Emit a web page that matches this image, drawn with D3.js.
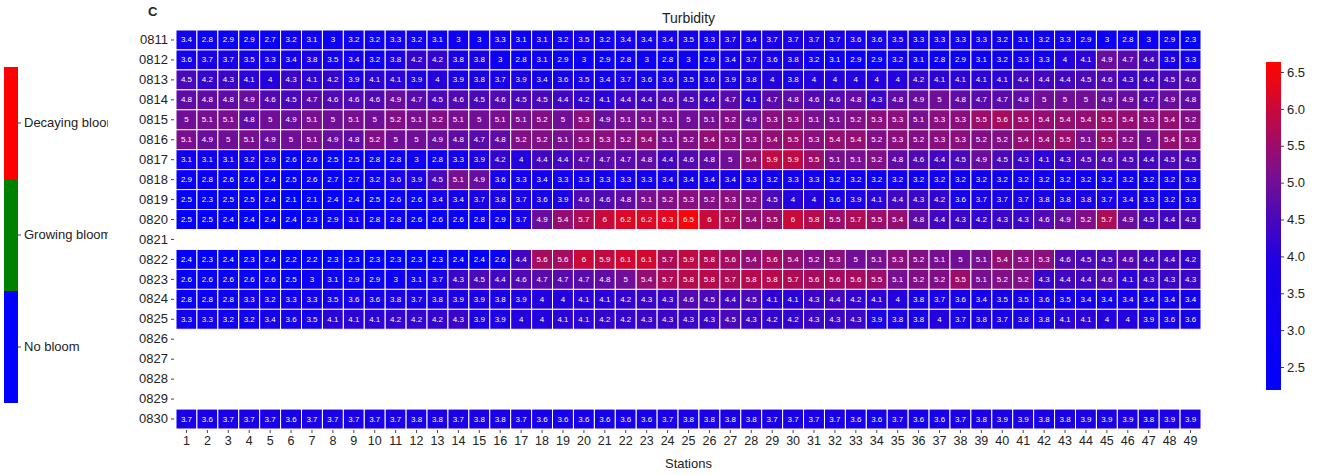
<!DOCTYPE html>
<html>
<head>
<meta charset="utf-8">
<script src="https://cdn.jsdelivr.net/npm/d3@7"></script>
<style>
  body { margin: 0; background: #fff; }
  text { font-family: "Liberation Sans", Arial, sans-serif; }
</style>
</head>
<body>
<svg id="chart" width="1323" height="475"></svg>
<script>
// Sampling dates (MMDD); dates without samples stay as empty rows
const dates = ["0811","0812","0813","0814","0815","0816","0817","0818","0819","0820",
               "0821","0822","0823","0824","0825","0826","0827","0828","0829","0830"];
const stations = d3.range(1, 50);

// Turbidity per station (1..49) for each sampled date
const turb0811 = [3.4,2.8,2.9,2.9,2.7,3.2,3.1,3,3.2,3.2,3.3,3.2,3.1,3,3,3.3,3.1,3.1,3.2,3.5,3.2,3.4,3.4,3.4,3.5,3.3,3.7,3.4,3.7,3.7,3.7,3.7,3.6,3.6,3.5,3.3,3.3,3.3,3.3,3.2,3.1,3.2,3.3,2.9,3,2.8,3,2.9,2.3];
const turb0812 = [3.6,3.7,3.7,3.5,3.3,3.4,3.8,3.5,3.4,3.2,3.8,4.2,4.2,3.8,3.8,3,2.8,3.1,2.9,3,2.9,2.8,3,2.8,3,2.9,3.4,3.7,3.6,3.8,3.2,3.1,2.9,2.9,3.2,3.1,2.8,2.9,3.1,3.2,3.3,3.3,4,4.1,4.9,4.7,4.4,3.5,3.3];
const turb0813 = [4.5,4.2,4.3,4.1,4,4.3,4.1,4.2,3.9,4.1,4.1,3.9,4,3.9,3.8,3.7,3.9,3.4,3.6,3.5,3.4,3.7,3.6,3.6,3.5,3.6,3.9,3.8,4,3.8,4,4,4,4,4,4.2,4.1,4.1,4.1,4.1,4.4,4.4,4.4,4.5,4.6,4.3,4.4,4.5,4.6];
const turb0814 = [4.8,4.8,4.8,4.9,4.6,4.5,4.7,4.6,4.6,4.6,4.9,4.7,4.5,4.6,4.5,4.6,4.5,4.5,4.4,4.2,4.1,4.4,4.4,4.6,4.5,4.4,4.7,4.1,4.7,4.8,4.6,4.6,4.8,4.3,4.8,4.9,5,4.8,4.7,4.7,4.8,5,5,5,4.9,4.9,4.7,4.9,4.8];
const turb0815 = [5,5.1,5.1,4.8,5,4.9,5.1,5,5.1,5,5.2,5.1,5.2,5.1,5,5.1,5.1,5.2,5,5.3,4.9,5.1,5.1,5.1,5,5.1,5.2,4.9,5.3,5.3,5.1,5.1,5.2,5.3,5.3,5.1,5.3,5.3,5.5,5.6,5.5,5.4,5.4,5.4,5.5,5.4,5.3,5.4,5.2];
const turb0816 = [5.1,4.9,5,5.1,4.9,5,5.1,4.9,4.8,5.2,5,5,4.9,4.8,4.7,4.8,5.2,5.2,5.1,5.3,5.3,5.2,5.4,5.1,5.2,5.4,5.3,5.3,5.4,5.5,5.3,5.4,5.4,5.2,5.3,5.2,5.3,5.3,5.2,5.2,5.4,5.4,5.5,5.1,5.5,5.2,5,5.4,5.3];
const turb0817 = [3.1,3.1,3.1,3.2,2.9,2.6,2.6,2.5,2.5,2.8,2.8,3,2.8,3.3,3.9,4.2,4,4.4,4.4,4.7,4.7,4.7,4.8,4.4,4.6,4.8,5,5.4,5.9,5.9,5.5,5.1,5.1,5.2,4.8,4.6,4.4,4.5,4.9,4.5,4.3,4.1,4.3,4.5,4.6,4.5,4.4,4.5,4.5];
const turb0818 = [2.9,2.8,2.6,2.6,2.4,2.5,2.6,2.7,2.7,3.2,3.6,3.9,4.5,5.1,4.9,3.6,3.3,3.4,3.3,3.3,3.3,3.3,3.3,3.4,3.4,3.4,3.4,3.3,3.2,3.3,3.3,3.2,3.2,3.2,3.2,3.2,3.2,3.2,3.2,3.2,3.2,3.2,3.2,3.2,3.2,3.2,3.2,3.2,3.3];
const turb0819 = [2.5,2.3,2.5,2.5,2.4,2.1,2.1,2.4,2.4,2.5,2.6,2.6,3.4,3.4,3.7,3.8,3.7,3.6,3.9,4.6,4.6,4.8,5.1,5.2,5.3,5.2,5.3,5.2,4.5,4,4,3.6,3.9,4.1,4.4,4.3,4.2,3.6,3.7,3.7,3.7,3.8,3.8,3.8,3.7,3.4,3.3,3.2,3.3];
const turb0820 = [2.5,2.5,2.4,2.4,2.4,2.4,2.3,2.9,3.1,2.8,2.8,2.6,2.6,2.6,2.8,2.9,3.7,4.9,5.4,5.7,6,6.2,6.2,6.3,6.5,6,5.7,5.4,5.5,6,5.8,5.5,5.7,5.5,5.4,4.8,4.4,4.3,4.2,4.3,4.3,4.6,4.9,5.2,5.7,4.9,4.5,4.4,4.5];
const turb0822 = [2.4,2.3,2.4,2.3,2.4,2.2,2.2,2.3,2.3,2.3,2.3,2.3,2.3,2.4,2.4,2.6,4.4,5.6,5.6,6,5.9,6.1,6.1,5.7,5.9,5.8,5.6,5.4,5.6,5.4,5.2,5.3,5,5.1,5.3,5.2,5.1,5,5.1,5.4,5.3,5.3,4.6,4.5,4.5,4.6,4.4,4.4,4.2];
const turb0823 = [2.6,2.6,2.6,2.6,2.6,2.5,3,3.1,2.9,2.9,3,3.1,3.7,4.3,4.5,4.4,4.6,4.7,4.7,4.7,4.8,5,5.4,5.7,5.8,5.8,5.7,5.8,5.8,5.7,5.6,5.6,5.6,5.5,5.1,5.2,5.2,5.5,5.1,5.2,5.2,4.3,4.4,4.4,4.6,4.1,4.3,4.3,4.3];
const turb0824 = [2.8,2.8,2.8,3.3,3.2,3.3,3.3,3.5,3.6,3.6,3.8,3.7,3.8,3.9,3.9,3.8,3.9,4,4,4.1,4.1,4.2,4.3,4.3,4.6,4.5,4.4,4.5,4.1,4.1,4.3,4.4,4.2,4.1,4,3.8,3.7,3.6,3.4,3.5,3.5,3.6,3.5,3.4,3.4,3.4,3.4,3.4,3.4];
const turb0825 = [3.3,3.3,3.2,3.2,3.4,3.6,3.5,4.1,4.1,4.1,4.2,4.2,4.2,4.3,3.9,3.9,4,4,4.1,4.1,4.2,4.2,4.3,4.3,4.3,4.3,4.5,4.3,4.2,4.2,4.3,4.3,4.3,3.9,3.8,3.8,4,3.7,3.8,3.7,3.8,3.8,4.1,4.1,4,4,3.9,3.6,3.6];
const turb0830 = [3.7,3.6,3.7,3.7,3.7,3.6,3.7,3.7,3.7,3.7,3.7,3.8,3.8,3.7,3.8,3.8,3.7,3.6,3.6,3.6,3.6,3.6,3.6,3.7,3.8,3.8,3.8,3.8,3.7,3.7,3.7,3.7,3.6,3.6,3.7,3.6,3.6,3.7,3.8,3.9,3.9,3.8,3.8,3.9,3.9,3.9,3.8,3.9,3.9];

const sampled = [
  ["0811", turb0811], ["0812", turb0812], ["0813", turb0813], ["0814", turb0814],
  ["0815", turb0815], ["0816", turb0816], ["0817", turb0817], ["0818", turb0818],
  ["0819", turb0819], ["0820", turb0820], ["0822", turb0822], ["0823", turb0823],
  ["0824", turb0824], ["0825", turb0825], ["0830", turb0830]
];

// Bloom stage legend
const stageLabels = ["Decaying bloom", "Growing bloom", "No bloom"];
const stageColors = ["#ff0000", "#008000", "#0000ff"];

// Colour bar ticks
const barTicks = [2.5, 3.0, 3.5, 4.0, 4.5, 5.0, 5.5, 6.0, 6.5];

const cells = [];
sampled.forEach(([date, vals]) => {
  vals.forEach((v, i) => cells.push({ date, station: stations[i], value: v }));
});

const svg = d3.select("#chart");
const defs = svg.append("defs");

const plot = { left: 176, right: 1201, top: 30, bottom: 429 };

const x = d3.scaleBand().domain(stations).range([plot.left, plot.right]);
const y = d3.scaleBand().domain(dates).range([plot.top, plot.bottom]);

const color = d3.scaleLinear()
  .domain([2.1, 3.9, 5.1, 6.6])
  .range(["#0000ff", "#1c00e6", "#780f90", "#ff0500"])
  .clamp(true);

// Heatmap cells
svg.append("g")
  .selectAll("rect")
  .data(cells)
  .join("rect")
  .attr("x", d => x(d.station))
  .attr("y", d => y(d.date))
  .attr("width", x.bandwidth())
  .attr("height", y.bandwidth())
  .attr("fill", d => color(d.value))
  .attr("stroke", "#ffffff")
  .attr("stroke-width", 1);

// Value labels
svg.append("g")
  .selectAll("text")
  .data(cells)
  .join("text")
  .attr("x", d => x(d.station) + x.bandwidth() / 2)
  .attr("y", d => y(d.date) + y.bandwidth() / 2)
  .attr("text-anchor", "middle")
  .attr("dominant-baseline", "central")
  .attr("font-size", 8)
  .attr("fill", "#ffffff")
  .text(d => String(d.value));

// Axes
const yAxis = svg.append("g")
  .attr("transform", `translate(${plot.left - 2},0)`)
  .call(d3.axisLeft(y).tickSize(3).tickPadding(3));
yAxis.select(".domain").remove();
yAxis.selectAll("text").attr("font-size", 13).attr("fill", "#222");
yAxis.selectAll("line").attr("stroke", "#444");

const xAxis = svg.append("g")
  .attr("transform", `translate(0,${plot.bottom + 1})`)
  .call(d3.axisBottom(x).tickSize(3).tickPadding(3));
xAxis.select(".domain").remove();
xAxis.selectAll("text").attr("font-size", 12.5).attr("fill", "#222");
xAxis.selectAll("line").attr("stroke", "#444");

svg.append("text")
  .attr("x", (plot.left + plot.right) / 2)
  .attr("y", 468)
  .attr("text-anchor", "middle")
  .attr("font-size", 13)
  .attr("fill", "#222")
  .text("Stations");

svg.append("text")
  .attr("x", (plot.left + plot.right) / 2)
  .attr("y", 23)
  .attr("text-anchor", "middle")
  .attr("font-size", 14)
  .attr("fill", "#222")
  .text("Turbidity");

svg.append("text")
  .attr("x", 148)
  .attr("y", 16)
  .attr("font-size", 13)
  .attr("font-weight", "bold")
  .attr("fill", "#222")
  .text("C");

// Colour bar
const bar = { x: 1266, w: 15, top: 62, bottom: 390 };
const barY = d3.scaleLinear().domain([2.5, 6.5]).range([367, 72]);
const grad = defs.append("linearGradient")
  .attr("id", "turbGrad")
  .attr("x1", 0).attr("y1", 1).attr("x2", 0).attr("y2", 0);
d3.range(0, 1.0001, 0.05).forEach(t => {
  const py = bar.bottom - t * (bar.bottom - bar.top);
  grad.append("stop")
    .attr("offset", t)
    .attr("stop-color", color(barY.invert(py)));
});
svg.append("rect")
  .attr("x", bar.x).attr("y", bar.top)
  .attr("width", bar.w).attr("height", bar.bottom - bar.top)
  .attr("fill", "url(#turbGrad)");
const barAxis = svg.append("g")
  .attr("transform", `translate(${bar.x + bar.w},0)`)
  .call(d3.axisRight(barY).tickValues(barTicks).tickFormat(d3.format(".1f")).tickSize(3).tickPadding(3));
barAxis.select(".domain").remove();
barAxis.selectAll("text").attr("font-size", 13).attr("fill", "#222");
barAxis.selectAll("line").attr("stroke", "#444");

// Bloom stage bar
const stageY = d3.scaleBand().domain(stageLabels).range([67, 403]);
svg.append("g")
  .selectAll("rect")
  .data(stageLabels)
  .join("rect")
  .attr("x", 4)
  .attr("y", d => stageY(d))
  .attr("width", 14)
  .attr("height", stageY.bandwidth())
  .attr("fill", (d, i) => stageColors[i]);

// Stage labels are cut off where the panel area ends
defs.append("clipPath").attr("id", "stageClip")
  .append("rect").attr("x", 0).attr("y", 0).attr("width", 108).attr("height", 475);

const stageGroup = svg.append("g").attr("clip-path", "url(#stageClip)");
const stageAxis = stageGroup.append("g")
  .attr("transform", "translate(18,0)")
  .call(d3.axisRight(stageY).tickSize(3).tickPadding(3));
stageAxis.select(".domain").remove();
stageAxis.selectAll("line").attr("stroke", "#444");
stageAxis.selectAll("text").attr("font-size", 13).attr("fill", "#222");
</script>
</body>
</html>
